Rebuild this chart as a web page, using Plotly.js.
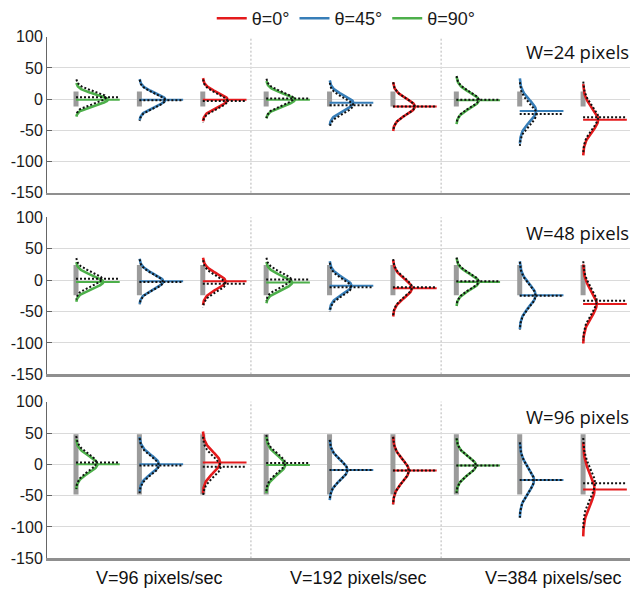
<!DOCTYPE html>
<html>
<head>
<meta charset="utf-8">
<script src="https://cdn.plot.ly/plotly-3.0.1.min.js"></script>
<style>html,body{margin:0;padding:0;background:#fff;}#chart{width:633px;height:590px;}</style>
</head>
<body>
<div id="chart"></div>
<script>
// ---- data ----
const thetaNames = ['θ=0°', 'θ=45°', 'θ=90°'];
const speedLabels = ['V=96 pixels/sec', 'V=192 pixels/sec', 'V=384 pixels/sec'];
const panelW = [24, 48, 96];                       // target width W (pixels)
const panelLabels = ['W=24 pixels', 'W=48 pixels', 'W=96 pixels'];
// group order inside each speed block: θ=90°, θ=45°, θ=0°
const groupTheta = ['θ=90°', 'θ=45°', 'θ=0°', 'θ=90°', 'θ=45°', 'θ=0°', 'θ=90°', 'θ=45°', 'θ=0°'];

// observed (solid) distributions: mean and SD of error (pixels)
const obsMeanW24 = [-1, -1, -1, -1, -6, -12, -2, -19, -33];
const obsSdW24   = [9, 11, 11.5, 10, 12, 13, 12.7, 17.4, 19];
const obsMeanW48 = [-3, -2, -2, -4, -9, -13, -3, -24, -38];
const obsSdW48   = [10.5, 12, 12.5, 11, 13, 15, 12.7, 18, 21];
const obsMeanW96 = [0, 0, 3, -1, -9, -10, -2, -25, -40];
const obsSdW96   = [13.3, 14.6, 16.5, 15, 16, 18, 14.5, 20, 25];

// model (dotted) distributions
const modMeanW24 = [3, -2, -3, 1, -10, -12, -1, -24, -29];
const modSdW24   = [9.5, 11, 11.5, 10.5, 12, 13, 12.7, 17, 19];
const modMeanW48 = [2, -3, -6, 1, -11.5, -11.5, -2, -25, -33];
const modSdW48   = [11, 12, 12.5, 11.5, 13, 15, 12.7, 18, 21];
const modMeanW96 = [3, -2, -4, 2, -9, -10, -2, -25, -30];
const modSdW96   = [14, 14.6, 16, 15, 16, 18, 14.5, 20, 24];

const obsMean = [obsMeanW24, obsMeanW48, obsMeanW96];
const obsSd   = [obsSdW24, obsSdW48, obsSdW96];
const modMean = [modMeanW24, modMeanW48, modMeanW96];
const modSd   = [modSdW24, modSdW48, modSdW96];

// ---- styling ----
const colors = {'θ=0°': '#e41a1c', 'θ=45°': '#377eb8', 'θ=90°': '#4daf4a'};
const rank = {'θ=0°': 1, 'θ=45°': 2, 'θ=90°': 3};
const pdfScale = 4.5;   // horizontal size of a density curve
const meanLen = 0.69;   // length of mean lines
const xDom = [47 / 633, 630 / 633];
const yDoms = [[1 - 192.7 / 590, 1 - 36.7 / 590], [1 - 374.3 / 590, 1 - 217.3 / 590], [1 - 558.3 / 590, 1 - 401.7 / 590]];

function densityCurve(k, mu, sd) {
  const xs = [], ys = [];
  const n = 61;
  for (let i = 0; i < n; i++) {
    const y = mu + 3 * sd - (6 * sd) * i / (n - 1);
    const z = (y - mu) / sd;
    xs.push(k + (pdfScale / sd) * Math.exp(-0.5 * z * z));
    ys.push(y);
  }
  return {x: xs, y: ys};
}

const traces = [];
const shown = {};
for (let p = 0; p < 3; p++) {
  const xa = p === 0 ? 'x' : 'x' + (p + 1);
  const ya = p === 0 ? 'y' : 'y' + (p + 1);
  for (let k = 0; k < groupTheta.length; k++) {
    const th = groupTheta[k];
    // target width bar
    traces.push({type: 'scatter', mode: 'lines', x: [k, k], y: [-panelW[p] / 2, panelW[p] / 2],
      xaxis: xa, yaxis: ya, line: {color: '#9b9b9b', width: 5}, showlegend: false, hoverinfo: 'skip'});
  }
  for (let k = 0; k < groupTheta.length; k++) {
    const th = groupTheta[k];
    const c = densityCurve(k, obsMean[p][k], obsSd[p][k]);
    const first = !shown[th];
    shown[th] = true;
    traces.push({type: 'scatter', mode: 'lines', x: c.x, y: c.y, xaxis: xa, yaxis: ya,
      name: th, legendrank: rank[th], showlegend: first,
      line: {color: colors[th], width: 2.6}});
    traces.push({type: 'scatter', mode: 'lines', x: [k, k + meanLen], y: [obsMean[p][k], obsMean[p][k]],
      xaxis: xa, yaxis: ya, showlegend: false, line: {color: colors[th], width: 2}});
  }
  for (let k = 0; k < groupTheta.length; k++) {
    const c = densityCurve(k, modMean[p][k], modSd[p][k]);
    traces.push({type: 'scatter', mode: 'lines', x: c.x, y: c.y, xaxis: xa, yaxis: ya, showlegend: false,
      line: {color: '#111', width: 2, dash: '2px,2px'}});
    traces.push({type: 'scatter', mode: 'lines', x: [k, k + meanLen], y: [modMean[p][k], modMean[p][k]],
      xaxis: xa, yaxis: ya, showlegend: false, line: {color: '#111', width: 2, dash: '2px,2px'}});
  }
}

const layout = {
  width: 633, height: 590,
  margin: {l: 0, r: 0, t: 0, b: 0},
  paper_bgcolor: '#fff', plot_bgcolor: '#fff',
  font: {family: 'Liberation Sans, Arial, sans-serif', color: '#1a1a1a'},
  showlegend: true,
  legend: {orientation: 'h', x: 0.547, xanchor: 'center', y: 1.0, yanchor: 'top',
    font: {size: 18, family: 'Liberation Sans, Arial, sans-serif'}, traceorder: 'normal',
    itemwidth: 30, tracegroupgap: 0, bgcolor: 'rgba(0,0,0,0)'},
  shapes: [], annotations: []
};

for (let p = 0; p < 3; p++) {
  const sfx = p === 0 ? '' : String(p + 1);
  layout['xaxis' + sfx] = {domain: xDom, anchor: 'y' + sfx, range: [-0.4576, 8.74],
    showgrid: false, zeroline: false, showticklabels: false, ticks: '',
    showline: true, linecolor: '#8f8f8f', linewidth: 2.5, fixedrange: true};
  layout['yaxis' + sfx] = {domain: yDoms[p], anchor: 'x' + sfx, range: [-150, 100],
    tickvals: [-150, -100, -50, 0, 50, 100], ticktext: ['-150', '-100', '-50', '0', '50', '100'],
    showgrid: true, gridcolor: '#dadada', gridwidth: 1, zeroline: false,
    showline: true, linecolor: '#666', linewidth: 1,
    ticks: 'inside', ticklen: 5, tickcolor: '#666',
    tickfont: {size: 16, color: '#1a1a1a'}, fixedrange: true};
  for (const xs of [2.76, 5.76]) {
    layout.shapes.push({type: 'line', xref: 'x' + sfx, yref: 'y' + sfx + ' domain', x0: xs, x1: xs, y0: 0, y1: 1,
      line: {color: '#b5b5b5', width: 1, dash: '2px,2px'}, layer: 'below'});
  }
  layout.annotations.push({text: panelLabels[p], xref: 'paper', x: 631 / 633, xanchor: 'right',
    yref: 'y' + sfx + ' domain', y: 0.905, yanchor: 'middle', showarrow: false,
    font: {family: 'Open Sans, sans-serif', size: 18.5, color: '#111'}});
}
const vLabelX = [159 / 633, 358 / 633, 553 / 633];
speedLabels.forEach((t, i) => {
  layout.annotations.push({text: t, xref: 'paper', x: vLabelX[i], xanchor: 'center',
    yref: 'paper', y: 1 - 578 / 590, yanchor: 'middle', showarrow: false,
    font: {size: 18, color: '#111'}});
});

Plotly.newPlot('chart', traces, layout, {displayModeBar: false, staticPlot: true});
</script>
</body>
</html>
